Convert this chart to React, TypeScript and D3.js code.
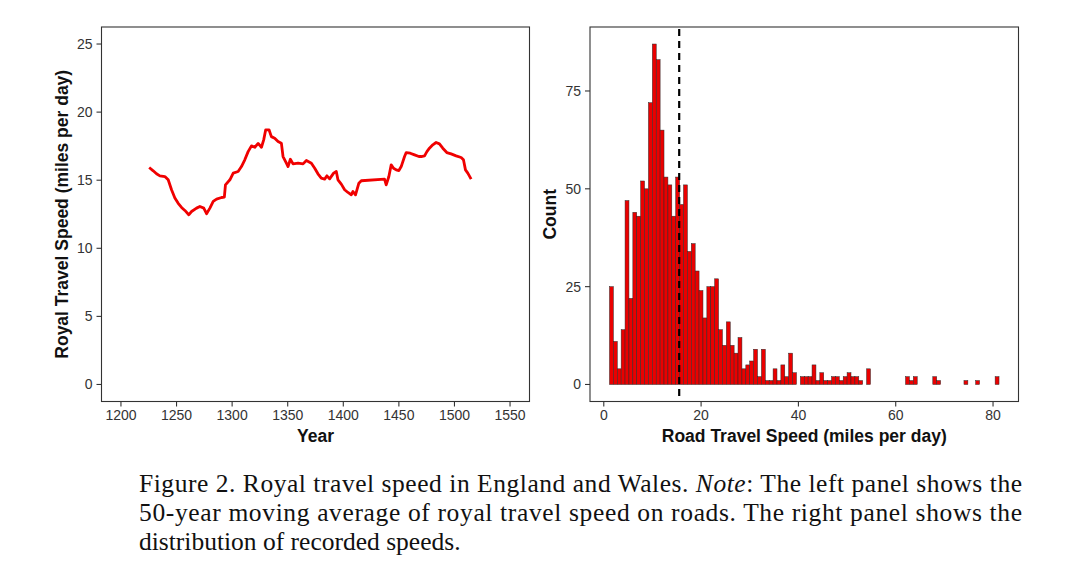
import React from 'react'
import * as d3 from 'd3'

// 50-year moving average of royal travel speed (year, miles per day)
const years = [
  1225.4, 1229, 1232, 1235, 1239.5, 1242.5, 1245.5, 1248.5, 1251.5, 1254.5,
  1257.5, 1261, 1263.5, 1268, 1271, 1274.5, 1277, 1280, 1283, 1286,
  1290.5, 1293, 1294, 1298, 1301, 1305.4, 1308.4, 1311.4, 1314.4, 1317.4,
  1320.4, 1323.4, 1326.4, 1328.4, 1330.2, 1333.2, 1335.3, 1338.3, 1341.3, 1344.3,
  1345.8, 1348.8, 1350.3, 1352.4, 1354.8, 1359.3, 1363.8, 1366.8, 1371.3, 1374.3,
  1377.2, 1380.2, 1383.2, 1385.3, 1387.7, 1391.3, 1393.7, 1395.2, 1398.2, 1401.2,
  1404.2, 1407.2, 1408.7, 1411, 1414, 1416.2, 1437.1, 1438.6, 1441, 1443.1,
  1445.2, 1447.6, 1450, 1452.1, 1455.1, 1456.6, 1460.2, 1464.1, 1468, 1470.1,
  1473.1, 1475.2, 1477.5, 1480.5, 1483.5, 1486.5, 1489.5, 1493.1, 1497, 1501.5,
  1506, 1508.1, 1509.9, 1512, 1515,
]
const speeds = [
  15.93, 15.69, 15.47, 15.32, 15.27, 15.03, 14.3, 13.7, 13.3, 13.0,
  12.78, 12.46, 12.7, 12.95, 13.07, 12.95, 12.54, 12.95, 13.44, 13.61,
  13.73, 13.76, 14.66, 15.03, 15.52, 15.64, 16.0, 16.5, 17.1, 17.52,
  17.42, 17.7, 17.42, 17.96, 18.7, 18.7, 18.2, 18.08, 17.84, 17.72,
  16.74, 16.25, 16.0, 16.54, 16.2, 16.25, 16.2, 16.45, 16.25, 15.88,
  15.47, 15.15, 15.08, 15.32, 15.1, 15.52, 15.64, 15.03, 14.71, 14.3,
  14.1, 13.93, 14.17, 13.93, 14.78, 14.96, 15.08, 14.66, 15.27, 16.13,
  15.88, 15.76, 15.71, 16.0, 16.74, 17.03, 16.98, 16.86, 16.74, 16.74,
  16.79, 17.1, 17.35, 17.6, 17.77, 17.67, 17.35, 17.03, 16.93, 16.79,
  16.67, 16.5, 15.76, 15.52, 15.08,
]

// histogram of recorded road speeds: 100 bins
const binStart = 1.17
const binWidth = 0.8006
const binCounts = [
  25, 11, 4, 14, 47, 22, 44, 43, 52, 50,
  72, 87, 83, 65, 53, 51, 43, 53, 46, 51,
  34, 36, 29, 24, 17, 25, 25, 27, 14, 10,
  16, 10, 8, 12, 4, 5, 6, 9, 2, 9,
  1, 1, 4, 1, 5, 2, 8, 3, 0, 2,
  2, 2, 5, 1, 3, 1, 1, 2, 2, 1,
  2, 3, 2, 2, 1, 0, 4, 0, 0, 0,
  0, 0, 0, 0, 0, 0, 2, 1, 2, 0,
  0, 0, 0, 2, 1, 0, 0, 0, 0, 0,
  0, 1, 0, 0, 1, 0, 0, 0, 0, 2,
]
const medianSpeed = 15.5

const yearTicks = [1200, 1250, 1300, 1350, 1400, 1450, 1500, 1550]
const speedTicks = [0, 5, 10, 15, 20, 25]
const roadTicks = [0, 20, 40, 60, 80]
const countTicks = [0, 25, 50, 75]

const FONT = '"Liberation Sans", Arial, Helvetica, sans-serif'
const SERIF = '"Liberation Serif", "Times New Roman", serif'
const AXIS = '#333'

function Frame({ x0, x1, y0, y1 }: { x0: number; x1: number; y0: number; y1: number }) {
  return <rect x={x0} y={y0} width={x1 - x0} height={y1 - y0} fill="none" stroke={AXIS} strokeWidth={1.1} />
}

export default function App() {
  // left panel
  const L = { x0: 101.5, x1: 529.5, y0: 27, y1: 401.5 }
  const xL = d3.scaleLinear().domain([1200 - 17.5, 1550 + 17.5]).range([L.x0, L.x1])
  const yL = d3.scaleLinear().domain([-1.25, 26.25]).range([L.y1, L.y0])
  const line = d3.line<number>()
    .x((_, i) => xL(years[i]))
    .y(d => yL(d))
  const linePath = line(speeds) || ''

  // right panel
  const R = { x0: 590, x1: 1018.5, y0: 27, y1: 401.5 }
  const binEnd = binStart + binWidth * binCounts.length
  const span = binEnd - binStart
  const maxCount = d3.max(binCounts) || 1
  const xR = d3.scaleLinear().domain([binStart - 0.05 * span, binEnd + 0.05 * span]).range([R.x0, R.x1])
  const yR = d3.scaleLinear().domain([-0.05 * maxCount, 1.05 * maxCount]).range([R.y1, R.y0])

  return (
    <div style={{ position: 'absolute', left: 0, top: 0 }}>
      <svg width={1089} height={576} style={{ display: 'block', background: '#fff' }}>
        {/* ---- left panel ---- */}
        <path d={linePath} fill="none" stroke="#f00000" strokeWidth={2.8} strokeLinejoin="round" />
        <Frame {...L} />
        {yearTicks.map(t => (
          <g key={t} transform={`translate(${xL(t)},${L.y1})`}>
            <line y2={5} stroke={AXIS} strokeWidth={1.1} />
            <text y={18.5} textAnchor="middle" fontFamily={FONT} fontSize={14} fill="#333">{t}</text>
          </g>
        ))}
        {speedTicks.map(t => (
          <g key={t} transform={`translate(${L.x0},${yL(t)})`}>
            <line x2={-5} stroke={AXIS} strokeWidth={1.1} />
            <text x={-9} dy="0.35em" textAnchor="end" fontFamily={FONT} fontSize={14} fill="#333">{t}</text>
          </g>
        ))}
        <text x={(L.x0 + L.x1) / 2} y={442} textAnchor="middle" fontFamily={FONT} fontSize={17.5} fontWeight="bold" fill="#111">Year</text>
        <text transform={`translate(68,${(L.y0 + L.y1) / 2}) rotate(-90)`} textAnchor="middle" fontFamily={FONT} fontSize={17.5} fontWeight="bold" fill="#111">
          Royal Travel Speed (miles per day)
        </text>

        {/* ---- right panel ---- */}
        {binCounts.map((c, i) => {
          const a = binStart + i * binWidth
          return (
            <rect key={i} x={xR(a)} y={yR(c)} width={xR(a + binWidth) - xR(a)} height={yR(0) - yR(c)}
              fill="#ea0000" stroke="#2a2a2a" strokeWidth={0.5} />
          )
        })}
        <line x1={xR(medianSpeed)} x2={xR(medianSpeed)} y1={R.y0 + 2} y2={R.y1} stroke="#000" strokeWidth={2.2} strokeDasharray="7,5" />
        <Frame {...R} />
        {roadTicks.map(t => (
          <g key={t} transform={`translate(${xR(t)},${R.y1})`}>
            <line y2={5} stroke={AXIS} strokeWidth={1.1} />
            <text y={18.5} textAnchor="middle" fontFamily={FONT} fontSize={14} fill="#333">{t}</text>
          </g>
        ))}
        {countTicks.map(t => (
          <g key={t} transform={`translate(${R.x0},${yR(t)})`}>
            <line x2={-5} stroke={AXIS} strokeWidth={1.1} />
            <text x={-9} dy="0.35em" textAnchor="end" fontFamily={FONT} fontSize={14} fill="#333">{t}</text>
          </g>
        ))}
        <text x={(R.x0 + R.x1) / 2} y={442} textAnchor="middle" fontFamily={FONT} fontSize={17.5} fontWeight="bold" fill="#111">
          Road Travel Speed (miles per day)
        </text>
        <text transform={`translate(556,${(R.y0 + R.y1) / 2}) rotate(-90)`} textAnchor="middle" fontFamily={FONT} fontSize={17.5} fontWeight="bold" fill="#111">
          Count
        </text>

        {/* ---- caption ---- */}
        <g fontFamily={SERIF} fontSize={25.5} fill="#111">
          <text x={139} y={491.5} textLength={883} lengthAdjust="spacing">
            Figure 2. Royal travel speed in England and Wales. <tspan fontStyle="italic">Note</tspan>: The left panel shows the
          </text>
          <text x={139} y={521} textLength={883} lengthAdjust="spacing">
            50-year moving average of royal travel speed on roads. The right panel shows the
          </text>
          <text x={139} y={550}>distribution of recorded speeds.</text>
        </g>
      </svg>
    </div>
  )
}
